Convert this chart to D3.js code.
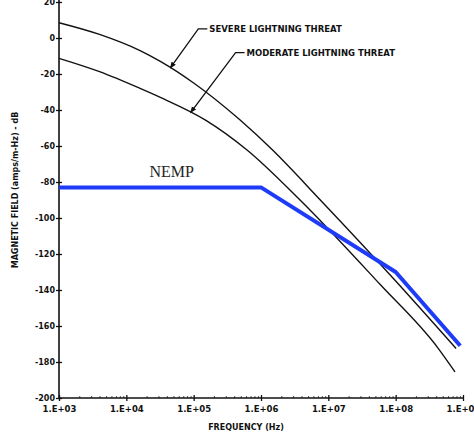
<!DOCTYPE html>
<html>
<head>
<meta charset="utf-8">
<script src="https://cdn.jsdelivr.net/npm/d3@7/dist/d3.min.js"></script>
<style>
  html, body { margin: 0; padding: 0; background: #fff; }
  svg { display: block; }
  .lbl { font-family: "DejaVu Sans", sans-serif; font-weight: bold; fill: #111; }
</style>
</head>
<body>
<div id="chart"></div>
<script>
// frequencies (Hz) and field levels (dB)
var severeFreq = [1e3, 4e3, 1.6e4, 3.2e4, 1e5, 4.9e5, 1.46e6, 7.6e6, 1e8, 7.9e8];
var severeDb   = [8.5, 2, -7, -13, -25, -45.6, -62, -90, -135, -172.5];

var moderateFreq = [1e3, 4e3, 1.6e4, 3.2e4, 1.5e5, 6.2e5, 3.8e6, 5.9e7, 4.2e8, 7.6e8];
var moderateDb   = [-11.3, -18.7, -28, -33, -45.6, -62.2, -90, -137, -172, -185.5];

var nempFreq = [1e3, 1e6, 1e8, 9.1e8];
var nempDb   = [-83, -83, -130, -171];

var decades = [1e3, 1e4, 1e5, 1e6, 1e7, 1e8, 1e9];
var yTicks = d3.range(-200, 21, 20);

var width = 474,
    height = 435;

var x = d3.scaleLog().domain([1e3, 1e9]).range([59, 463]);
var y = d3.scaleLinear().domain([-200, 20]).range([398, 2]);

var svg = d3.select("#chart")
    .append("svg")
    .attr("width", width)
    .attr("height", height);

function zip(f, v) {
    return f.map(function(d, i) { return [d, v[i]]; });
}

// value of a curve at frequency f, linear in log f
function curveAt(f, v, at) {
    for (var i = 0; i < f.length - 1; i++) {
        if (at >= f[i] && at <= f[i + 1]) {
            var t = (Math.log(at) - Math.log(f[i])) / (Math.log(f[i + 1]) - Math.log(f[i]));
            return v[i] + t * (v[i + 1] - v[i]);
        }
    }
    return v[v.length - 1];
}

// axes
var yAxis = svg.append("g")
    .attr("transform", "translate(" + x.range()[0] + ",0)")
    .call(d3.axisLeft(y).tickValues(yTicks).tickSize(3).tickFormat(function(d) { return String(d); }));
yAxis.select(".domain").attr("stroke", "#111").attr("stroke-width", 1.6).attr("d", "M0," + y(-200) + "V0");
yAxis.selectAll(".tick line").attr("x1", -3).attr("x2", 3).attr("stroke", "#111").attr("stroke-width", 1.3);
yAxis.selectAll(".tick text").attr("class", "lbl").attr("font-size", 8).attr("x", -4);

var xMinor = [];
decades.slice(0, -1).forEach(function(d) {
    for (var k = 2; k < 10; k++) xMinor.push(d * k);
});

svg.append("g")
    .attr("transform", "translate(0," + y(-200) + ")")
    .call(d3.axisBottom(x).tickValues(xMinor).tickSize(-2).tickFormat(""))
    .call(function(g) {
        g.select(".domain").remove();
        g.selectAll(".tick line").attr("stroke", "#555").attr("stroke-width", 1);
    });

var xAxis = svg.append("g")
    .attr("transform", "translate(0," + y(-200) + ")")
    .call(d3.axisBottom(x).tickValues(decades).tickSize(3)
        .tickFormat(function(d) { return "1.E+0" + Math.round(Math.log10(d)); }));
xAxis.select(".domain").attr("stroke", "#111").attr("stroke-width", 1.6).attr("d", "M" + x.range()[0] + ",0H" + x.range()[1]);
xAxis.selectAll(".tick line").attr("y1", -3).attr("y2", 3).attr("stroke", "#111").attr("stroke-width", 1.3);
xAxis.selectAll(".tick text").attr("class", "lbl").attr("font-size", 8.5).attr("y", 8);

svg.append("text")
    .attr("class", "lbl")
    .attr("x", 246)
    .attr("y", 430)
    .attr("text-anchor", "middle")
    .attr("font-size", 8)
    .text("FREQUENCY (Hz)");

svg.append("text")
    .attr("class", "lbl")
    .attr("transform", "translate(18,190) rotate(-90)")
    .attr("text-anchor", "middle")
    .attr("font-size", 8)
    .text("MAGNETIC FIELD (amps/m-Hz) - dB");

// curves
var line = d3.line()
    .x(function(d) { return x(d[0]); })
    .y(function(d) { return y(d[1]); })
    .curve(d3.curveMonotoneX);

svg.append("path")
    .datum(zip(severeFreq, severeDb))
    .attr("d", line)
    .attr("fill", "none")
    .attr("stroke", "#111")
    .attr("stroke-width", 1.4);

svg.append("path")
    .datum(zip(moderateFreq, moderateDb))
    .attr("d", line)
    .attr("fill", "none")
    .attr("stroke", "#111")
    .attr("stroke-width", 1.4);

svg.append("path")
    .datum(zip(nempFreq, nempDb))
    .attr("d", line.curve(d3.curveLinear))
    .attr("fill", "none")
    .attr("stroke", "#1e3cf8")
    .attr("stroke-width", 4)
    .attr("stroke-linejoin", "round");

svg.append("text")
    .attr("x", x(2.2e4))
    .attr("y", y(nempDb[0]) - 10)
    .attr("font-family", "'Liberation Serif', 'Times New Roman', serif")
    .attr("font-size", 16)
    .attr("fill", "#222")
    .text("NEMP");

// leader lines
svg.append("defs").append("marker")
    .attr("id", "arrow")
    .attr("viewBox", "0 0 10 10")
    .attr("refX", 9)
    .attr("refY", 5)
    .attr("markerWidth", 5)
    .attr("markerHeight", 5)
    .attr("orient", "auto")
    .append("path")
    .attr("d", "M0,1L10,5L0,9z")
    .attr("fill", "#111");

var notes = [
    {text: "SEVERE LIGHTNING THREAT", f: severeFreq, v: severeDb, at: 4.5e4, dx: 28, dy: -39},
    {text: "MODERATE LIGHTNING THREAT", f: moderateFreq, v: moderateDb, at: 9e4, dx: 45, dy: -60}
];

notes.forEach(function(n) {
    var tx = x(n.at), ty = y(curveAt(n.f, n.v, n.at));
    var ex = tx + n.dx, ey = ty + n.dy;
    svg.append("path")
        .attr("d", "M" + (ex + 9) + "," + ey + "H" + ex + "L" + tx + "," + ty)
        .attr("fill", "none")
        .attr("stroke", "#111")
        .attr("stroke-width", 1.3)
        .attr("marker-end", "url(#arrow)");
    svg.append("text")
        .attr("class", "lbl")
        .attr("x", ex + 11)
        .attr("y", ey + 3)
        .attr("font-size", 8.5)
        .text(n.text);
});
</script>
</body>
</html>
